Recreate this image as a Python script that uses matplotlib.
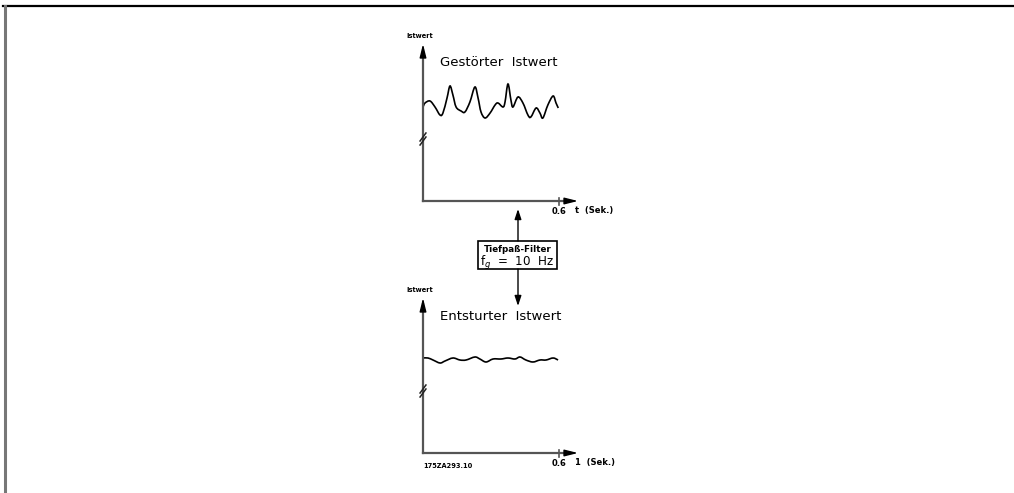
import matplotlib
matplotlib.use('Agg')
import matplotlib.pyplot as plt
from matplotlib.path import Path
from matplotlib.patches import PathPatch

# gestoerter Istwert (top), t in s, y in arbitrary units
t_raw = [0.0, 0.009, 0.031, 0.053, 0.075, 0.088, 0.106, 0.119, 0.132, 0.146, 0.168, 0.185,
         0.207, 0.229, 0.243, 0.256, 0.274, 0.296, 0.318, 0.331, 0.353, 0.362, 0.375, 0.388,
         0.397, 0.419, 0.441, 0.463, 0.476, 0.499, 0.516, 0.529, 0.551, 0.574, 0.587, 0.597]
y_raw = [9.4, 9.8, 10.0, 9.4, 8.6, 8.8, 10.3, 11.5, 10.6, 9.4, 9.0, 8.9,
         9.9, 11.4, 10.3, 8.9, 8.3, 8.8, 9.6, 9.8, 9.4, 9.9, 11.7, 10.1,
         9.4, 10.4, 9.8, 8.6, 8.4, 9.3, 8.8, 8.3, 9.6, 10.5, 9.8, 9.3]

# entstoerter Istwert (bottom)
t_filt = [0.0, 0.022, 0.044, 0.075, 0.097, 0.132, 0.163, 0.19, 0.229, 0.251, 0.278,
          0.309, 0.344, 0.375, 0.406, 0.428, 0.454, 0.485, 0.516, 0.543, 0.574, 0.596]
y_filt = [9.5, 9.5, 9.3, 9.0, 9.2, 9.5, 9.3, 9.3, 9.6, 9.4, 9.1,
          9.4, 9.4, 9.5, 9.4, 9.6, 9.3, 9.1, 9.3, 9.3, 9.5, 9.3]

W, H = 1014, 493
fig = plt.figure(figsize=(W / 100, H / 100), dpi=100)

# background axes in pixel units for the frame and the filter box
bg = fig.add_axes([0, 0, 1, 1])
bg.set_xlim(0, W)
bg.set_ylim(H, 0)
bg.axis('off')
bg.plot([3, W], [6, 6], color='black', lw=1.6)
bg.plot([5, 5], [6, H], color='#777777', lw=2.2)

bg.add_patch(plt.Rectangle((478, 241), 79, 28, fill=False, ec='black', lw=1.2))
bg.text(517.5, 250, 'Tiefpaß-Filter', ha='center', va='center', fontsize=6.3, fontweight='bold')
bg.text(480, 263, r'f$_g$  =  10  Hz', ha='left', va='center', fontsize=8.6)
small_head = dict(arrowstyle='-|>,head_width=0.2,head_length=0.6', color='black',
                  lw=1.0, mutation_scale=10, shrinkA=0, shrinkB=0)
bg.annotate('', xy=(518, 209), xytext=(518, 241), arrowprops=small_head)
bg.annotate('', xy=(518, 306), xytext=(518, 269), arrowprops=small_head)


def smooth_path(t, y):
    # cubic bezier through the points (catmull-rom tangents)
    verts = [(t[0], y[0])]
    codes = [Path.MOVETO]
    n = len(t)
    for i in range(n - 1):
        i0 = max(i - 1, 0)
        i3 = min(i + 2, n - 1)
        c1 = (t[i] + (t[i + 1] - t[i0]) / 6, y[i] + (y[i + 1] - y[i0]) / 6)
        c2 = (t[i + 1] - (t[i3] - t[i]) / 6, y[i + 1] - (y[i3] - y[i]) / 6)
        verts += [c1, c2, (t[i + 1], y[i + 1])]
        codes += [Path.CURVE4] * 3
    return Path(verts, codes)


def diagram(rect, ymax, t, y, title, tlabel, code=None):
    ax = fig.add_axes(rect)
    xmax = 0.684
    ax.set_xlim(0, xmax)
    ax.set_ylim(0, ymax)
    for s in ax.spines.values():
        s.set_visible(False)
    ax.set_xticks([])
    ax.set_yticks([])
    ax.patch.set_visible(False)

    # axis lines (gray) with black heads
    ax.plot([0, 0], [0, ymax - 0.6], color='#555555', lw=1.6, clip_on=False)
    ax.plot([0, xmax - 0.03], [0, 0], color='#555555', lw=1.6, clip_on=False)
    head = dict(arrowstyle='-|>,head_width=0.2,head_length=0.8', color='black', lw=1.0,
                mutation_scale=10, shrinkA=0, shrinkB=0)
    ax.annotate('', xy=(0, ymax), xytext=(0, ymax - 1.0), arrowprops=head, annotation_clip=False)
    ax.annotate('', xy=(xmax, 0), xytext=(xmax - 0.04, 0), arrowprops=head, annotation_clip=False)
    # break mark on y axis
    for off in (0.0, 0.4):
        ax.plot([-0.013, 0.013], [5.6 + off, 6.4 + off], color='#222222', lw=1.1, clip_on=False)
    # tick at 0.6
    ax.plot([0.6, 0.6], [-0.35, 0.35], color='#555555', lw=1.2, clip_on=False)
    ax.text(0.6, -1.0, '0.6', ha='center', va='center', fontsize=6, fontweight='bold')
    ax.text(0.671, -1.0, tlabel, ha='left', va='center', fontsize=6, fontweight='bold')

    ax.text(-0.013, ymax + 0.75, 'Istwert', ha='center', va='center', fontsize=4.8, fontweight='bold')
    ax.text(0.075, ymax - 1.9, title, ha='left', va='center', fontsize=9.5)

    ax.add_patch(PathPatch(smooth_path(t, y), fill=False, ec='black', lw=1.2, clip_on=False))
    if code:
        ax.text(0.0, -1.3, code, ha='left', va='center', fontsize=4.8, fontweight='bold')
    return ax


diagram([423 / W, (H - 201) / H, 155 / W, 157 / H], 15.7, t_raw, y_raw,
        'Gestörter  Istwert', 't  (Sek.)')
diagram([423 / W, (H - 453) / H, 155 / W, 155 / H], 15.5, t_filt, y_filt,
        'Entsturter  Istwert', '1  (Sek.)', code='175ZA293.10')

fig.savefig('out.png', dpi=100)
